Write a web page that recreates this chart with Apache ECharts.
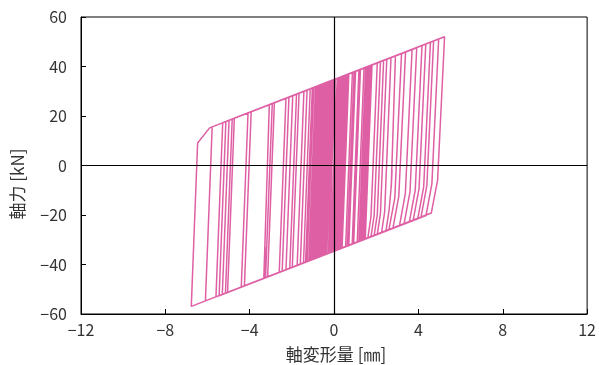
<!DOCTYPE html>
<html>
<head>
<meta charset="utf-8">
<script src="https://cdn.jsdelivr.net/npm/echarts@6/dist/echarts.min.js"></script>
<style>html,body{margin:0;padding:0;background:#fff;}#chart{width:599px;height:365px;}</style>
</head>
<body>
<div id="chart"></div>
<script>
// Axis ticks
const xTicks = [-12, -8, -4, 0, 4, 8, 12];
const yTicks = [-60, -40, -20, 0, 20, 40, 60];

// Hysteresis path vertices [displacement mm, force kN]
const cyclesSmall = [
  [0, 0],
  [0.05, 34.9], [-0.27, -35.5], [-0.30, -35.6], [0.02, 34.8],
  [0.10, 35.0], [-0.22, -35.3], [-0.35, -35.8], [-0.03, 34.6],
  [0.15, 35.2], [-0.17, -35.2], [-0.40, -35.9], [-0.08, 34.4],
  [0.20, 35.4], [-0.12, -35.0], [-0.45, -36.1], [-0.13, 34.3],
  [0.25, 35.5], [-0.07, -34.8], [-0.50, -36.3], [-0.18, 34.1],
  [0.30, 35.7], [-0.02, -34.7], [-0.55, -36.4], [-0.23, 33.9],
  [0.35, 35.9], [0.03, -34.5], [-0.60, -36.6], [-0.28, 33.8],
  [0.40, 36.0], [0.08, -34.3], [-0.65, -36.7], [-0.33, 33.6],
  [0.45, 36.2], [0.13, -34.2], [-0.70, -36.9], [-0.38, 33.4],
  [0.50, 36.4], [0.18, -34.0], [-0.75, -37.1], [-0.43, 33.3],
  [0.55, 36.5], [0.23, -33.8], [-0.80, -37.2], [-0.48, 33.1],
  [0.60, 36.7], [0.28, -33.7], [-0.85, -37.4], [-0.53, 32.9],
  [0.65, 36.8], [0.33, -33.5], [-0.90, -37.6], [-0.58, 32.8],
  [0.70, 37.0], [0.38, -33.3], [-0.95, -37.7], [-0.63, 32.6],
  [0.87, 37.6], [0.55, -32.8], [-1.00, -37.9], [-0.68, 32.5],
  [1.02, 38.1], [0.70, -32.3], [-1.05, -38.1], [-0.73, 32.3],
  [1.18, 38.6], [0.86, -31.8], [-1.10, -38.2], [-0.78, 32.1]
];
const cyclesRepeat = [
  [0.95, 37.8], [0.63, -32.5], [-0.42, -36.0], [-0.10, 34.4],
  [1.25, 38.8], [0.93, -31.5], [-0.62, -36.6], [-0.30, 33.7],
  [1.42, 39.4], [1.10, -31.0], [-0.82, -37.3], [-0.50, 33.1],
  [1.52, 39.7], [1.20, -30.6], [-1.02, -38.0], [-0.70, 32.4],
  [1.56, 39.8], [1.24, -30.5], [-0.37, -35.8], [-0.05, 34.5],
  [1.60, 40.0], [1.28, -30.4], [-0.47, -36.2], [-0.15, 34.2],
  [1.64, 40.1], [1.32, -30.2], [-0.57, -36.5], [-0.25, 33.9],
  [1.68, 40.2], [1.36, -30.1], [-0.67, -36.8], [-0.35, 33.5],
  [1.72, 40.4], [1.40, -30.0], [-0.77, -37.1], [-0.45, 33.2],
  [1.78, 40.6], [1.46, -29.8], [-0.87, -37.5], [-0.55, 32.9]
];
const cyclesMid = [
  [1.50, 39.7], [1.18, -30.7], [-1.15, -38.4], [-0.83, 32.0],
  [1.54, 39.8], [1.22, -30.6], [-1.20, -38.6], [-0.88, 31.8],
  [1.58, 39.9], [1.26, -30.4], [-1.28, -38.8], [-0.96, 31.5],
  [1.62, 40.0], [1.30, -30.3], [-1.35, -39.1], [-1.03, 31.3],
  [1.66, 40.2], [1.34, -30.2], [-1.45, -39.4], [-1.13, 31.0],
  [1.70, 40.3], [1.38, -30.0], [-1.60, -39.9], [-1.28, 30.5],
  [1.75, 40.5], [1.43, -29.9], [-1.75, -40.4], [-1.43, 30.0],
  [1.80, 40.6], [1.48, -29.7], [-1.98, -41.1], [-1.66, 29.2]
];
const cyclesLarge = [
  [2.05, 41.5], [1.75, -20.8], [1.60, -29.3], [-2.10, -41.5], [-1.78, 28.8],
  [2.20, 42.0], [1.90, -20.3], [1.75, -28.8], [-2.28, -42.1], [-1.96, 28.2],
  [2.35, 42.5], [2.05, -19.8], [1.90, -28.3], [-2.46, -42.7], [-2.14, 27.6],
  [2.50, 43.0], [2.20, -19.3], [2.05, -27.8], [-2.60, -43.2], [-2.28, 27.2],
  [2.70, 43.6], [2.40, -18.7], [2.25, -27.2], [-3.15, -45.0], [-2.83, 25.4],
  [2.91, 44.3], [2.71, -9.0], [2.75, -1.8], [2.70, -9.6], [2.61, -18.0], [2.46, -26.5], [-3.25, -45.3], [-2.93, 25.0],
  [3.20, 45.3], [2.88, -13.1], [2.60, -26.0], [-3.30, -45.5], [-3.27, -32.8], [-3.33, -45.6], [-3.39, -45.8], [-3.07, 24.6],
  [3.39, 45.9], [3.07, -12.5], [2.79, -25.4], [-4.25, -48.6], [-3.93, 21.7],
  [3.70, 46.9], [3.38, -11.4], [3.10, -24.4], [-4.40, -49.1], [-4.08, 21.2],
  [3.92, 47.6], [3.60, -10.7], [3.32, -23.6], [-5.05, -51.3], [-4.73, 19.1],
  [4.17, 48.5], [3.85, -9.9], [3.57, -22.8], [-5.15, -51.6], [-4.83, 18.8],
  [4.35, 49.1], [4.03, -9.3], [3.75, -22.2], [-5.30, -52.1], [-4.98, 18.3],
  [4.57, 49.8], [4.25, -8.6], [3.97, -21.5], [-5.45, -52.6], [-5.13, 17.8],
  [4.72, 50.3], [4.40, -8.1], [4.12, -21.0], [-5.60, -53.1], [-5.28, 17.3],
  [4.96, 51.1], [4.64, -7.3], [4.36, -20.2], [-6.10, -54.7], [-5.78, 15.6],
  [5.24, 52.0], [4.91, -5.9], [4.61, -19.2], [-6.77, -56.9], [-6.47, 9.1], [-5.90, 15.2], [-5.60, 16.2]
];

const xName = '軸変形量 [㎜]';
const yName = '軸力 [kN]';

const pathData = cyclesSmall.concat(cyclesRepeat, cyclesMid, cyclesLarge);
const FONT = '"Noto Sans CJK JP", "Noto Sans", sans-serif';
const fmt = v => String(v).replace('-', '\u2212');

const chart = echarts.init(document.getElementById('chart'), null, {renderer: 'canvas'});
chart.setOption({
  animation: false,
  backgroundColor: '#ffffff',
  grid: {left: 81, right: 10, top: 17, bottom: 51, show: true, borderColor: '#000', borderWidth: 1},
  xAxis: {
    type: 'value', min: xTicks[0], max: xTicks[xTicks.length - 1], interval: 4,
    axisLine: {show: true, onZero: false, lineStyle: {color: '#000', width: 1}},
    axisTick: {show: true, inside: true, length: 5, lineStyle: {color: '#000'}},
    axisLabel: {formatter: fmt, color: '#333', fontSize: 16, fontFamily: FONT, margin: 8},
    splitLine: {show: false}
  },
  yAxis: {
    type: 'value', min: yTicks[0], max: yTicks[yTicks.length - 1], interval: 20,
    axisLine: {show: true, onZero: false, lineStyle: {color: '#000', width: 1}},
    axisTick: {show: true, inside: true, length: 5, lineStyle: {color: '#000'}},
    axisLabel: {formatter: fmt, color: '#333', fontSize: 16, fontFamily: FONT, margin: 14},
    splitLine: {show: false}
  },
  graphic: [
    {type: 'text', x: 336, y: 355, style: {text: xName, fill: '#333', font: '17px ' + FONT, textAlign: 'center', textVerticalAlign: 'middle'}},
    {type: 'text', x: 18, y: 184, rotation: Math.PI / 2, style: {text: yName, fill: '#333', font: '17px ' + FONT, textAlign: 'center', textVerticalAlign: 'middle'}}
  ],
  series: [{
    type: 'line',
    data: pathData,
    showSymbol: false,
    symbol: 'none',
    smooth: false,
    lineStyle: {color: '#DE5FA4', width: 1.5},
    z: 2,
    markLine: {
      silent: true, symbol: ['none', 'none'], animation: false,
      label: {show: false},
      lineStyle: {color: '#000', width: 1.2, type: 'solid'},
      data: [{xAxis: 0}, {yAxis: 0}]
    }
  }]
});
</script>
</body>
</html>
